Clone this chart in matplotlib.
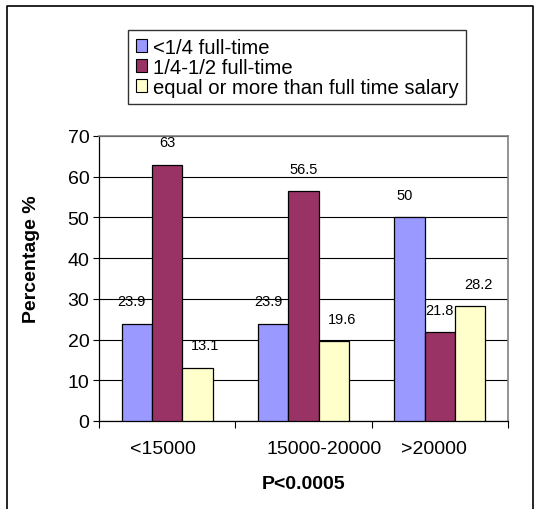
import matplotlib.pyplot as plt
from matplotlib.lines import Line2D
from matplotlib.patches import Patch
import numpy as np

plt.rcParams["font.family"] = ["Liberation Sans", "DejaVu Sans"]

categories = ["<15000", "15000-20000", ">20000"]
series_names = ["<1/4 full-time", "1/4-1/2 full-time",
                "equal or more than full time salary"]
values = [
    [23.9, 23.9, 50],
    [63, 56.5, 21.8],
    [13.1, 19.6, 28.2],
]
colors = ["#9999FF", "#993366", "#FFFFCC"]
# where Excel happened to put the category labels (shifted from centres)
label_pos = [-0.03, 1.15, 1.96]
label_dx = [-5, 0, 8]

fig = plt.figure(figsize=(5.41, 5.10), dpi=100)
ax = fig.add_axes([99 / 541, 88 / 510, 409 / 541, 285 / 510])

n = len(series_names)
width = 2 / 3 / n
x = np.arange(len(categories))
for i, (name, vals, col) in enumerate(zip(series_names, values, colors)):
    pos = x - 1 / 3 + width * (i + 0.5)
    ax.bar(pos, vals, width, color=col, edgecolor="black", linewidth=0.9,
           label=name, zorder=3)
    for xp, v in zip(pos, vals):
        ax.annotate(f"{v:g}", (xp, v), xytext=(label_dx[i] * 0.72, 16),
                    textcoords="offset points", ha="center", va="center",
                    fontsize=10.5, zorder=4)

ax.set_xlim(-0.5, 2.5)
ax.set_ylim(0, 70)
ax.set_yticks(range(0, 71, 10))
ax.yaxis.grid(True, color="black", linewidth=0.8)
ax.set_axisbelow(True)
ax.tick_params(axis="y", labelsize=14, length=4, width=0.8, pad=3)

ax.set_xticks([-0.5, 0.5, 1.5, 2.5])
ax.set_xticklabels([])
ax.tick_params(axis="x", which="major", length=5, width=0.8)
ax.set_xticks(label_pos, minor=True)
ax.set_xticklabels(categories, minor=True)
ax.tick_params(axis="x", which="minor", length=0, labelsize=14, pad=14)

for side in ["top", "right"]:
    ax.spines[side].set_color("#808080")
    ax.spines[side].set_linewidth(1.2)
for side in ["left", "bottom"]:
    ax.spines[side].set_linewidth(0.9)

ax.set_ylabel("Percentage %", fontsize=14, fontweight="bold")
ax.yaxis.set_label_coords(-0.144, 0.57)
ax.set_xlabel("P<0.0005", fontsize=14, fontweight="bold", labelpad=13)

handles = [Patch(facecolor=c, edgecolor="black", linewidth=0.8) for c in colors]
leg = fig.legend(handles, series_names, loc="upper left",
                 bbox_to_anchor=(128 / 541, 1 - 31 / 510), fontsize=14.6,
                 frameon=True, fancybox=False, handlelength=0.55,
                 handleheight=0.55, handletextpad=0.3, labelspacing=0.05,
                 borderpad=0.38, borderaxespad=0)
leg.get_frame().set_edgecolor("black")
leg.get_frame().set_linewidth(1.0)

# outer chart frame (bottom edge is cut off in the original)
fig.add_artist(Line2D([7 / 541, 7 / 541, 533 / 541, 533 / 541],
                      [0, 1 - 7 / 510, 1 - 7 / 510, 0],
                      color="black", linewidth=1.2, transform=fig.transFigure))

fig.savefig("out.png", dpi=100)
